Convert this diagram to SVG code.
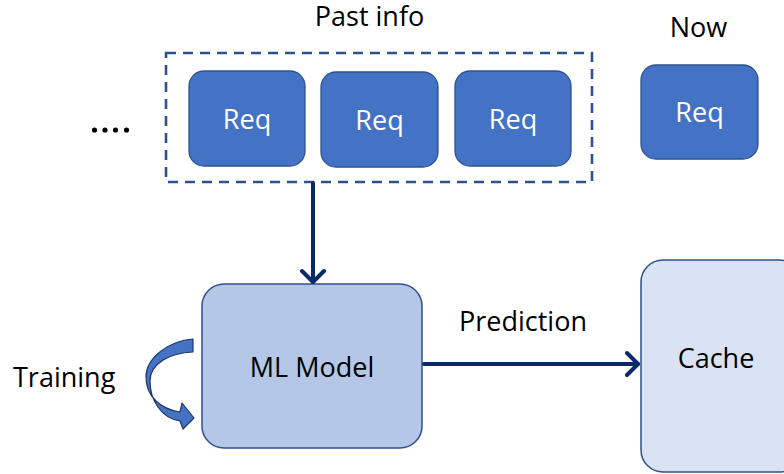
<svg xmlns="http://www.w3.org/2000/svg" width="784" height="474" viewBox="0 0 784 474">
  <defs>
    <style>
      text { font-family: "Open Sans", "Noto Sans", "DejaVu Sans", sans-serif; font-size: 27px; fill: #000; }
      .req { fill: #4472C4; stroke: #2F528F; stroke-width: 1.3; }
      .req-label { fill: #fff; text-anchor: middle; }
      .model { fill: #B4C7E7; stroke: #2F528F; stroke-width: 1.5; }
      .cache { fill: #DAE3F3; stroke: #2F528F; stroke-width: 1.5; }
      .center { text-anchor: middle; }
      .flow { fill: none; stroke: #0B2868; stroke-width: 4; stroke-linecap: round; stroke-linejoin: round; }
      .group-box { fill: none; stroke: #2F528F; stroke-width: 2.6; stroke-dasharray: 10 7; }
    </style>
    <marker id="chevron" markerWidth="16" markerHeight="28" viewBox="-14 -14 16 28" refX="0" refY="0" orient="auto" markerUnits="userSpaceOnUse">
      <path d="M-11,-11 L0,0 L-11,11" fill="none" stroke="#0B2868" stroke-width="4" stroke-linecap="round" stroke-linejoin="round"/>
    </marker>
  </defs>

  <rect width="784" height="474" fill="#fff"/>

  <!-- older requests -->
  <g id="ellipsis">
    <circle cx="94.5" cy="130" r="2.6" fill="#000"/>
    <circle cx="105" cy="130" r="2.6" fill="#000"/>
    <circle cx="115.5" cy="130" r="2.6" fill="#000"/>
    <circle cx="126.5" cy="130" r="2.6" fill="#000"/>
  </g>

  <!-- past window -->
  <g id="past-info">
    <rect class="group-box" x="166" y="53" width="426" height="129"/>
    <text class="center" x="369.5" y="26">Past info</text>
  </g>

  <g id="req-1">
    <rect class="req" x="189" y="71" width="116" height="95" rx="15"/>
    <text class="req-label" x="247" y="129">Req</text>
  </g>
  <g id="req-2">
    <rect class="req" x="321" y="72" width="117" height="95" rx="15"/>
    <text class="req-label" x="379.5" y="130">Req</text>
  </g>
  <g id="req-3">
    <rect class="req" x="455" y="71" width="116" height="95" rx="15"/>
    <text class="req-label" x="513" y="129">Req</text>
  </g>

  <!-- current request -->
  <g id="req-now">
    <text class="center" x="698.5" y="37">Now</text>
    <rect class="req" x="641" y="65" width="117" height="94" rx="15"/>
    <text class="req-label" x="699.5" y="122">Req</text>
  </g>

  <g id="ml-model">
    <rect class="model" x="202" y="284" width="220" height="164" rx="22"/>
    <text class="center" x="312" y="377">ML Model</text>
  </g>

  <g id="cache">
    <rect class="cache" x="641" y="260" width="160" height="212" rx="22"/>
    <text class="center" x="716" y="368">Cache</text>
  </g>

  <g id="training">
    <path d="M193,339 C168,341 146,358 146,377 C146,396 160,409 180,412 L182,403 L194,418 L183,429 L180,421 C161,418 150,400 150,381 C150,363 170,353 193,352 Z" fill="#4472C4" stroke="#1F3864" stroke-width="1.2" stroke-linejoin="round"/>
    <text x="13" y="387">Training</text>
  </g>

  <g id="connectors">
    <line class="flow" x1="313" y1="183" x2="313" y2="282" marker-end="url(#chevron)"/>
    <line class="flow" x1="424" y1="364" x2="638" y2="364" marker-end="url(#chevron)"/>
    <text x="459" y="331">Prediction</text>
  </g>
</svg>
